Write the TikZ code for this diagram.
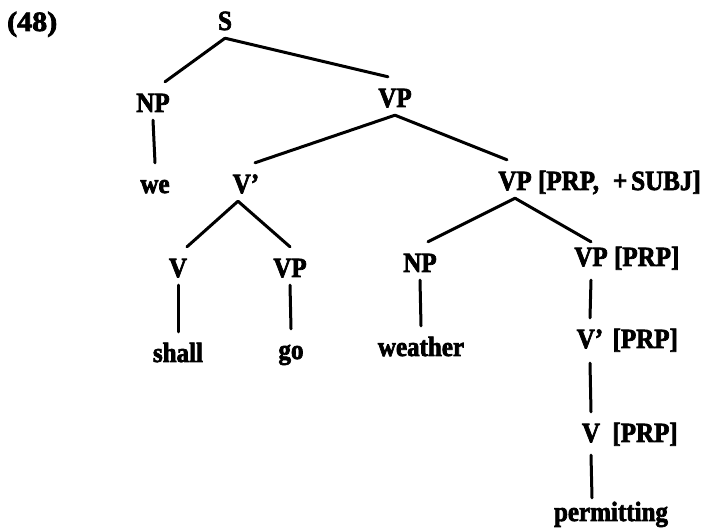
\documentclass[tikz,border=0pt]{standalone}
\usepackage{fontspec}
\setmainfont{Liberation Serif}[BoldFeatures={FakeBold=2.5, FakeStretch=0.9}]
\usetikzlibrary{calc}
\newcommand{\treefont}{\fontsize{27.8}{30}\selectfont\bfseries}
\newcommand{\barmark}{{\char"0027}}
\begin{document}
\begin{tikzpicture}[x=1pt,y=-1pt,
  lbl/.style={font=\treefont, inner xsep=0pt, inner ysep=8pt,
              text height=22pt, text depth=0pt, anchor=base},
  feat/.style={font=\treefont, inner sep=0pt, anchor=base west},
  branch/.style={line width=3pt, line cap=round}]
\useasboundingbox (0,0) rectangle (713,529);

% example number
\node[lbl, anchor=base west] (ex) at (7,31) {\scalebox{1.2}[1]{(48)}};

% categories
\node[lbl] (S)   at (225,30)  {S};
\node[lbl] (NP1) at (153,112) {NP};
\node[lbl] (VP1) at (395,107) {VP};
\node[lbl] (we)  at (155,193) {we};
\node[lbl] (Vb1) at (246,193) {V\barmark};
\node[lbl] (VPs) at (515,190) {VP};
\node[feat] (VPsf) at ($(VPs.base east)+(6,0)$) {[PRP,\hspace{14pt}+\hspace{4pt}SUBJ]};
\node[lbl] (V1)  at (178,277) {V};
\node[lbl] (VP2) at (290,277) {VP};
\node[lbl] (NP2) at (420,272) {NP};
\node[lbl] (VP3) at (591,266) {VP};
\node[feat] (VP3f) at ($(VP3.base east)+(6,0)$) {[PRP]};
\node[lbl] (Vb2) at (590,348) {V\barmark};
\node[feat] (Vb2f) at ($(Vb2.base east)+(9,0)$) {[PRP]};
\node[lbl] (V3)  at (591,442) {V};
\node[feat] (V3f) at ($(V3.base east)+(12,0)$) {[PRP]};

% words
\node[lbl] (shall)      at (178,362) {shall};
\node[lbl] (go)         at (291,359) {go};
\node[lbl] (weather)    at (421,356) {weather};
\node[lbl] (permitting) at (611,521) {permitting};

% branches
\draw[branch] (S.south) -- ($(NP1.north)+(12,0)$);
\draw[branch] (S.south) -- ($(VP1.north)+(-7,0)$);
\draw[branch] (NP1.south) -- (we.north);
\draw[branch] (VP1.south) -- ($(Vb1.north)+(9,0)$);
\draw[branch] (VP1.south) -- ($(VPs.north)+(-8,0)$);
\draw[branch] ($(Vb1.south)+(-8,0)$) -- ($(V1.north)+(9,0)$);
\draw[branch] ($(Vb1.south)+(-8,0)$) -- (VP2.north);
\draw[branch] (VPs.south) -- ($(NP2.north)+(8,0)$);
\draw[branch] (VPs.south) -- ($(VP3.north)+(0,6)$);
\draw[branch] (V1.south) -- (shall.north);
\draw[branch] (VP2.south) -- (go.north);
\draw[branch] (NP2.south) -- (weather.north);
\draw[branch] ($(VP3.south)+(0,6)$) -- (Vb2.north);
\draw[branch] ($(Vb2.south)+(0,7)$) -- (V3.north);
\draw[branch] ($(V3.south)+(0,5)$) -- ($(V3.south |- permitting.north)+(1,7)$);
\end{tikzpicture}
\end{document}
